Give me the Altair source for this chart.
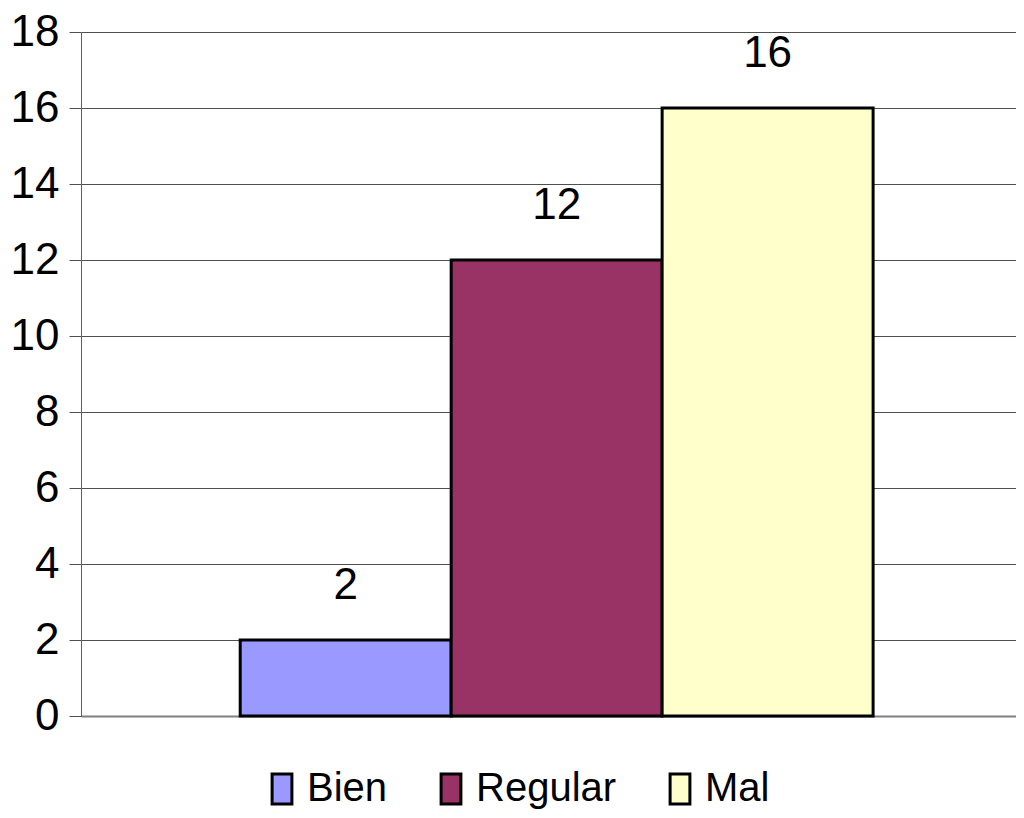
import altair as alt
import pandas as pd

categories = ["Bien", "Regular", "Mal"]
values = [2, 12, 16]
colors = ["#9999FF", "#993366", "#FFFFCC"]
y_ticks = [0, 2, 4, 6, 8, 10, 12, 14, 16, 18]

df = pd.DataFrame({"cat": categories, "val": values})

FONT = "'Liberation Sans Narrow', 'Arial Narrow', 'Liberation Sans', sans-serif"

x = alt.X("cat:N", sort=categories,
          scale=alt.Scale(paddingInner=0, paddingOuter=0.716, align=0.527),
          axis=alt.Axis(title=None, labels=False, ticks=False, domain=True,
                        domainColor="#808080", domainWidth=2, grid=False))
y = alt.Y("val:Q", scale=alt.Scale(domain=[0, 18], nice=False),
          axis=alt.Axis(title=None, values=y_ticks, grid=True, gridColor="#505050",
                        gridWidth=1, tickColor="#505050", tickSize=12, tickWidth=1,
                        domainColor="#606060", domainWidth=1,
                        labelFont=FONT, labelFontSize=44, labelColor="#000000",
                        labelPadding=10, labelBaseline="middle"))

bars = alt.Chart(df).mark_bar(stroke="#000000", strokeWidth=3, opacity=1).encode(
    x=x, y=y,
    color=alt.Color("cat:N", sort=categories,
                    scale=alt.Scale(domain=categories, range=colors),
                    legend=alt.Legend(title=None, orient="none", direction="horizontal",
                                      legendX=181, legendY=737, padding=0,
                                      symbolType="M-0.66,-1H0.66V1H-0.66Z", symbolSize=900,
                                      symbolStrokeColor="#000000", symbolStrokeWidth=3,
                                      symbolOpacity=1,
                                      labelFont=FONT, labelFontSize=40, labelColor="#000000",
                                      labelOffset=5, columnPadding=43))
)

labels = alt.Chart(df).mark_text(font=FONT, fontSize=44, dy=-54, baseline="middle",
                                 color="#000000").encode(
    x=alt.X("cat:N", sort=categories),
    y=alt.Y("val:Q"),
    text=alt.Text("val:Q")
)

chart = alt.layer(bars, labels).properties(
    width=935, height=684,
    autosize=alt.AutoSizeParams(type="none"),
    padding={"left": 73, "top": 24, "right": 0, "bottom": 94}
).configure_view(stroke=None).configure(background="white")

chart.save("out.html", embed_options={"renderer": "svg", "actions": False})
